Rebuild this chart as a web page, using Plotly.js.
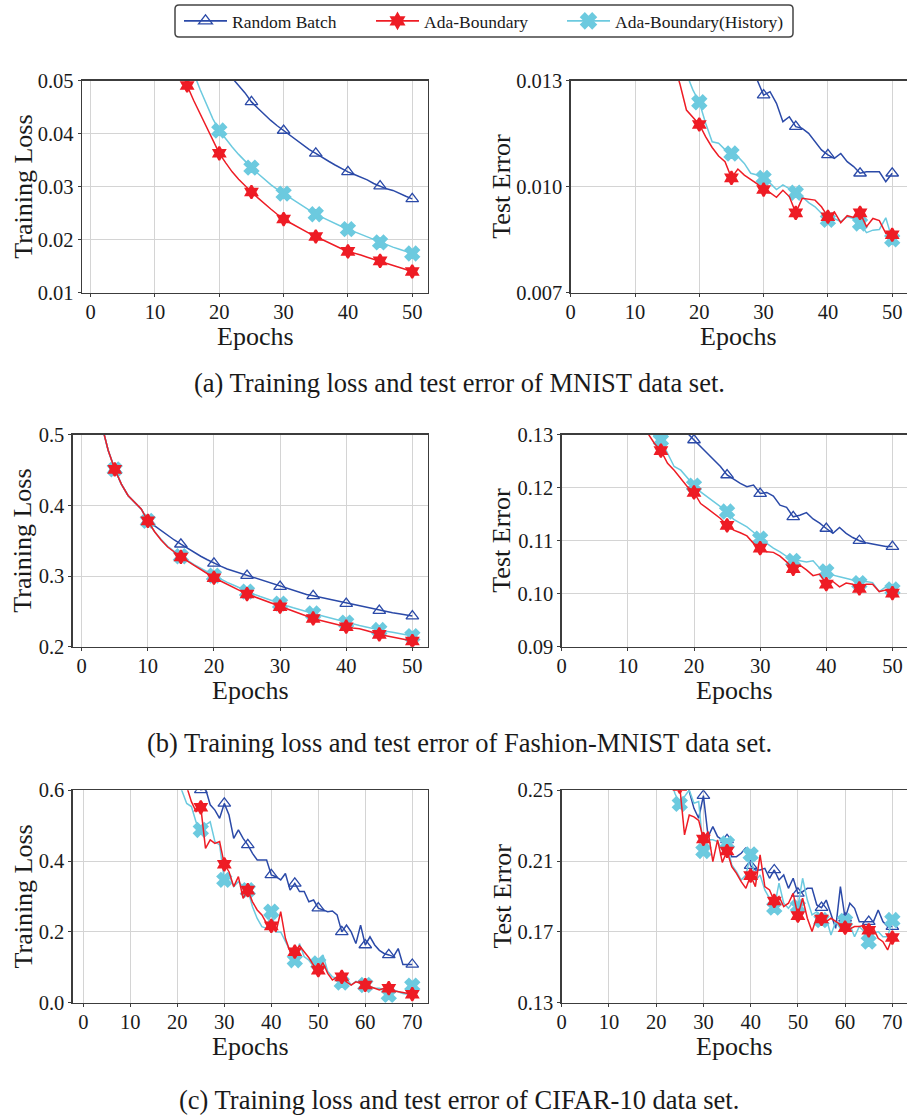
<!DOCTYPE html>
<html><head><meta charset="utf-8">
<script src="https://cdn.plot.ly/plotly-3.0.1.min.js"></script>
<style>html,body{margin:0;padding:0;background:#fff}#chart{width:907px;height:1117px}</style>
</head><body><div id="chart"></div>
<script>
// ---------------- data ----------------
const seriesNames = ['Random Batch', 'Ada-Boundary', 'Ada-Boundary(History)'];
const captions = [
  '(a) Training loss and test error of MNIST data set.',
  '(b) Training loss and test error of Fashion-MNIST data set.',
  '(c) Training loss and test error of CIFAR-10 data set.'
];
const xTitle = 'Epochs';
const lossTitle = 'Training Loss';
const errTitle = 'Test Error';

const epochs50 = [1,2,3,4,5,6,7,8,9,10,11,12,13,14,15,16,17,18,19,20,21,22,23,24,25,
  26,27,28,29,30,31,32,33,34,35,36,37,38,39,40,41,42,43,44,45,46,47,48,49,50];
const epochs70 = [1,2,3,4,5,6,7,8,9,10,11,12,13,14,15,16,17,18,19,20,21,22,23,24,25,
  26,27,28,29,30,31,32,33,34,35,36,37,38,39,40,41,42,43,44,45,46,47,48,49,50,
  51,52,53,54,55,56,57,58,59,60,61,62,63,64,65,66,67,68,69,70];

const ticks50 = [0, 10, 20, 30, 40, 50];
const ticks70 = [0, 10, 20, 30, 40, 50, 60, 70];

// MNIST
const mnistLossRandom = [0.34,0.24,0.19,0.16,0.14,0.125,0.112,0.102,0.094,0.087,
  0.081,0.076,0.071,0.067,0.064,0.061,0.0585,0.0565,0.0547,0.0532,
  0.0519,0.0506,0.0491,0.0477,0.0460,0.0448,0.0436,0.0425,0.0415,0.0406,
  0.0396,0.0387,0.0378,0.0370,0.0363,0.0355,0.0348,0.0341,0.0334,0.0328,
  0.0323,0.0318,0.0313,0.0306,0.0301,0.0296,0.0293,0.0287,0.0282,0.0277];
const mnistLossAda = [0.30,0.20,0.16,0.135,0.118,0.105,0.095,0.087,0.080,0.074,
  0.068,0.062,0.057,0.0528,0.0491,0.0463,0.0438,0.0410,0.0385,0.0363,
  0.0345,0.0328,0.0314,0.0301,0.0290,0.0279,0.0268,0.0258,0.0248,0.0239,
  0.0232,0.0225,0.0218,0.0212,0.0206,0.0200,0.0194,0.0188,0.0183,0.0178,
  0.0175,0.0171,0.0167,0.0163,0.0160,0.0156,0.0152,0.0148,0.0144,0.0140];
const mnistLossHist = [0.32,0.22,0.17,0.145,0.127,0.113,0.102,0.093,0.085,0.078,
  0.072,0.066,0.061,0.057,0.054,0.0515,0.0484,0.0456,0.0428,0.0406,
  0.0390,0.0375,0.0361,0.0348,0.0336,0.0325,0.0314,0.0304,0.0295,0.0287,
  0.0279,0.0271,0.0263,0.0255,0.0248,0.0242,0.0236,0.0230,0.0225,0.0220,
  0.0215,0.0210,0.0205,0.0200,0.0195,0.0190,0.0186,0.0182,0.0178,0.0174];
const mnistLossTicks = [0.01, 0.02, 0.03, 0.04, 0.05];

const mnistErrRandom = [0.035,0.028,0.025,0.023,0.0215,0.0205,0.0196,0.0189,0.0183,0.0177,
  0.0172,0.0168,0.0164,0.0160,0.0157,0.0154,0.0151,0.0149,0.0147,0.0145,
  0.0143,0.0141,0.0139,0.0138,0.0137,0.0135,0.0134,0.0133,0.01302,0.01259,
  0.01269,0.01236,0.01184,0.01198,0.01170,0.01165,0.01151,0.01127,0.01104,0.01090,
  0.01080,0.01094,0.01071,0.01057,0.01038,0.01042,0.01042,0.01042,0.01014,0.01038];
const mnistErrAda = [0.032,0.025,0.022,0.020,0.0186,0.0175,0.0167,0.0160,0.0155,0.0151,
  0.0148,0.0145,0.0143,0.0141,0.0139,0.0135,0.0129,0.01217,0.01198,0.01176,
  0.01141,0.01111,0.01087,0.01071,0.01025,0.01050,0.01033,0.01021,0.01008,0.00992,
  0.00983,0.00970,0.00990,0.00972,0.00926,0.00967,0.00964,0.00962,0.00943,0.00915,
  0.00929,0.00898,0.00918,0.00913,0.00926,0.00887,0.00910,0.00904,0.00868,0.00864];
const mnistErrHist = [0.033,0.026,0.023,0.021,0.0195,0.0183,0.0174,0.0166,0.0160,0.0155,
  0.0151,0.0148,0.0145,0.0143,0.0141,0.0139,0.0136,0.0132,0.01274,0.01239,
  0.01179,0.01127,0.01123,0.01105,0.01094,0.01085,0.01066,0.01038,0.01033,0.01025,
  0.01010,0.00992,0.01005,0.00995,0.00983,0.00972,0.00955,0.00943,0.00925,0.00906,
  0.00910,0.00901,0.00915,0.00910,0.00896,0.00870,0.00877,0.00879,0.00912,0.00851];
const mnistErrTicks = [0.007, 0.010, 0.013];

// Fashion-MNIST
const fashionLossRandom = [0.66,0.57,0.515,0.478,0.451,0.43,0.414,0.405,0.395,0.378,
  0.371,0.364,0.357,0.351,0.345,0.339,0.333,0.328,0.323,0.318,
  0.314,0.310,0.307,0.304,0.3005,0.297,0.294,0.291,0.288,0.285,
  0.282,0.280,0.277,0.274,0.272,0.270,0.268,0.265,0.263,0.261,
  0.259,0.257,0.255,0.253,0.251,0.2495,0.248,0.2465,0.245,0.2434];
const fashionLossAda = [0.66,0.57,0.515,0.478,0.451,0.43,0.414,0.405,0.395,0.378,
  0.363,0.351,0.341,0.334,0.327,0.321,0.315,0.309,0.303,0.2976,
  0.293,0.288,0.283,0.279,0.2745,0.271,0.267,0.264,0.260,0.2566,
  0.253,0.250,0.2465,0.243,0.240,0.2375,0.235,0.2325,0.2305,0.2283,
  0.2265,0.2255,0.223,0.220,0.2175,0.2155,0.2135,0.2115,0.2095,0.208];
const fashionLossHist = [0.66,0.57,0.515,0.478,0.451,0.43,0.414,0.405,0.395,0.378,
  0.363,0.352,0.342,0.335,0.328,0.322,0.316,0.311,0.3055,0.3005,
  0.296,0.291,0.287,0.2825,0.278,0.2745,0.271,0.2675,0.264,0.261,
  0.258,0.255,0.252,0.2495,0.247,0.2445,0.242,0.239,0.2365,0.234,
  0.232,0.230,0.228,0.2258,0.2236,0.222,0.2205,0.219,0.217,0.215];
const fashionLossTicks = [0.2, 0.3, 0.4, 0.5];

const fashionErrRandom = [0.21,0.185,0.172,0.164,0.158,0.153,0.149,0.146,0.143,0.141,
  0.139,0.1375,0.136,0.1348,0.1337,0.1327,0.1318,0.1311,0.1303,0.1290,
  0.1277,0.1265,0.1252,0.1240,0.1224,0.1216,0.1208,0.1202,0.1205,0.1189,
  0.1191,0.1184,0.1167,0.1163,0.1145,0.1148,0.1153,0.1141,0.1133,0.1123,
  0.1114,0.1125,0.1114,0.1106,0.1100,0.1096,0.1094,0.1092,0.1089,0.1089];
const fashionErrAda = [0.20,0.175,0.163,0.155,0.149,0.145,0.141,0.138,0.136,0.134,
  0.1325,0.1312,0.1303,0.1284,0.1270,0.1246,0.1233,0.1218,0.1202,0.1191,
  0.1170,0.1161,0.1152,0.1142,0.1129,0.1120,0.1115,0.1109,0.1095,0.1086,
  0.1079,0.1078,0.1071,0.1060,0.1047,0.1054,0.1045,0.1034,0.1037,0.1018,
  0.1023,0.1013,0.1020,0.1018,0.1010,0.1018,0.1018,0.1004,0.1007,0.1001];
const fashionErrHist = [0.205,0.18,0.167,0.159,0.153,0.148,0.144,0.141,0.138,0.136,
  0.134,0.1327,0.1312,0.1298,0.1290,0.1265,0.1240,0.1233,0.1218,0.1204,
  0.1192,0.1183,0.1174,0.1165,0.1155,0.1140,0.1133,0.1126,0.1116,0.1104,
  0.1095,0.1086,0.1079,0.1070,0.1062,0.1062,0.1060,0.1062,0.1048,0.1042,
  0.1035,0.1032,0.1029,0.1026,0.1020,0.1023,0.1021,0.1004,0.1013,0.1008];
const fashionErrTicks = [0.09, 0.10, 0.11, 0.12, 0.13];

// CIFAR-10
const cifarLossRandom = [2.1,1.85,1.68,1.55,1.45,1.36,1.28,1.21,1.15,1.09,
  1.04,0.99,0.95,0.91,0.87,0.83,0.80,0.76,0.73,0.70,
  0.68,0.66,0.64,0.62,0.601,0.605,0.559,0.544,0.521,0.563,
  0.530,0.464,0.488,0.464,0.446,0.422,0.403,0.403,0.403,0.361,
  0.356,0.347,0.365,0.318,0.337,0.314,0.314,0.285,0.290,0.267,
  0.262,0.257,0.259,0.248,0.200,0.219,0.200,0.167,0.219,0.163,
  0.186,0.163,0.148,0.139,0.135,0.130,0.153,0.108,0.108,0.108];
const cifarLossAda = [2.0,1.75,1.6,1.48,1.38,1.3,1.22,1.15,1.09,1.03,
  0.98,0.93,0.89,0.85,0.81,0.77,0.74,0.71,0.68,0.655,
  0.63,0.61,0.568,0.54,0.552,0.436,0.46,0.45,0.455,0.391,
  0.37,0.328,0.356,0.295,0.318,0.285,0.262,0.248,0.224,0.217,
  0.2,0.257,0.182,0.144,0.144,0.161,0.144,0.127,0.106,0.092,
  0.113,0.083,0.064,0.073,0.073,0.059,0.05,0.059,0.055,0.05,
  0.045,0.041,0.036,0.041,0.041,0.034,0.031,0.029,0.026,0.024];
const cifarLossHist = [1.95,1.7,1.55,1.43,1.33,1.25,1.17,1.1,1.04,0.98,
  0.93,0.89,0.85,0.81,0.78,0.75,0.72,0.69,0.66,0.63,
  0.598,0.563,0.554,0.51,0.488,0.502,0.511,0.455,0.446,0.347,
  0.361,0.328,0.342,0.328,0.318,0.271,0.238,0.215,0.21,0.257,
  0.2,0.2,0.172,0.148,0.12,0.167,0.13,0.12,0.102,0.111,
  0.135,0.088,0.073,0.069,0.057,0.069,0.05,0.06,0.055,0.05,
  0.045,0.041,0.041,0.036,0.022,0.036,0.031,0.026,0.024,0.048];
const cifarLossTicks = [0.0, 0.2, 0.4, 0.6];

const cifarErrRandom = [0.64,0.56,0.51,0.47,0.44,0.415,0.395,0.378,0.362,0.348,
  0.336,0.325,0.315,0.306,0.298,0.291,0.285,0.279,0.274,0.27,
  0.266,0.263,0.26,0.258,0.256,0.255,0.2495,0.2398,0.2342,0.247,
  0.2238,0.2295,0.2238,0.222,0.222,0.2125,0.2125,0.2144,0.2176,0.2074,
  0.205,0.205,0.2059,0.2003,0.205,0.1993,0.2022,0.1946,0.2003,0.1918,
  0.1927,0.1946,0.1946,0.1852,0.1837,0.188,0.1796,0.172,0.1956,0.1777,
  0.1862,0.1833,0.1758,0.1758,0.1758,0.1758,0.1824,0.1758,0.173,0.173];
const cifarErrAda = [0.62,0.55,0.5,0.46,0.43,0.41,0.39,0.37,0.355,0.34,
  0.33,0.32,0.31,0.3,0.295,0.29,0.285,0.28,0.275,0.27,
  0.266,0.262,0.258,0.255,0.252,0.2248,0.236,0.235,0.233,0.2225,
  0.2267,0.2097,0.222,0.2093,0.2157,0.2069,0.2031,0.1984,0.1946,0.2018,
  0.1956,0.2135,0.1956,0.1937,0.1875,0.19,0.1843,0.1862,0.1918,0.1792,
  0.189,0.1777,0.1702,0.1786,0.1773,0.1758,0.1777,0.1758,0.1739,0.1724,
  0.1717,0.173,0.173,0.1739,0.1709,0.172,0.1664,0.1645,0.1598,0.1668];
const cifarErrHist = [0.6,0.53,0.48,0.445,0.415,0.395,0.375,0.36,0.345,0.333,
  0.322,0.313,0.305,0.298,0.291,0.285,0.28,0.275,0.27,0.266,
  0.262,0.259,0.256,0.248,0.2423,0.2464,0.2502,0.2427,0.2436,0.2157,
  0.222,0.222,0.221,0.2163,0.22,0.2078,0.204,0.1993,0.2022,0.2138,
  0.1988,0.2022,0.1937,0.189,0.1837,0.1975,0.1862,0.1833,0.1871,0.1843,
  0.2003,0.188,0.1796,0.1814,0.1767,0.1777,0.1682,0.1758,0.172,0.1762,
  0.1739,0.1673,0.173,0.1702,0.1645,0.1692,0.1702,0.1673,0.1673,0.1767];
const cifarErrTicks = [0.13, 0.17, 0.21, 0.25];

// ---------------- styling ----------------
const W = 907, H = 1117;
const px = v => v / W;
const py = v => 1 - v / H;
const FONT = '"Liberation Serif", "Times New Roman", serif';
const TXT = '#1a1a1a';
const AXC = '#3c3c3c';
const seriesStyle = [
  {color: '#2b4aa8', symbol: 'triangle-up-open', size: 11, lineW: 1.3},
  {color: '#ee1c25', symbol: 'hexagram', size: 10, lineW: 2},
  {color: '#6ccadf', symbol: 'x', size: 12, lineW: 2}
];
const drawOrder = [0, 2, 1];
const legendX = [179, 371, 562];

const panels = [
  {x: epochs50, s: [mnistLossRandom, mnistLossAda, mnistLossHist], yt: mnistLossTicks, fmt: '.2f',
   yr: [0.01, 0.05], xr: [-1.35, 52.45], xt: ticks50, title: lossTitle,
   bx: [82, 428], by: [80.7, 292.7], right: false, tx: 24},
  {x: epochs50, s: [mnistErrRandom, mnistErrAda, mnistErrHist], yt: mnistErrTicks, fmt: '.3f',
   yr: [0.007, 0.013], xr: [0, 52.3], xt: ticks50, title: errTitle,
   bx: [570.7, 907], by: [80.7, 292.7], right: true, tx: 502},
  {x: epochs50, s: [fashionLossRandom, fashionLossAda, fashionLossHist], yt: fashionLossTicks, fmt: '.1f',
   yr: [0.2, 0.5], xr: [-1.36, 52.32], xt: ticks50, title: lossTitle,
   bx: [72.7, 427.7], by: [434.7, 646.7], right: false, tx: 23},
  {x: epochs50, s: [fashionErrRandom, fashionErrAda, fashionErrHist], yt: fashionErrTicks, fmt: '.2f',
   yr: [0.09, 0.13], xr: [0, 52.2], xt: ticks50, title: errTitle,
   bx: [561.7, 907], by: [434.7, 646.7], right: true, tx: 502},
  {x: epochs70, s: [cifarLossRandom, cifarLossAda, cifarLossHist], yt: cifarLossTicks, fmt: '.1f',
   yr: [0.0, 0.6], xr: [-2.26, 73.28], xt: ticks70, title: lossTitle,
   bx: [72.7, 427.7], by: [790.3, 1002.7], right: false, tx: 23},
  {x: epochs70, s: [cifarErrRandom, cifarErrAda, cifarErrHist], yt: cifarErrTicks, fmt: '.2f',
   yr: [0.13, 0.25], xr: [0, 73.1], xt: ticks70, title: errTitle,
   bx: [561.7, 907], by: [790.3, 1002.7], right: true, tx: 502}
];

const traces = [];
const layout = {
  width: W, height: H,
  margin: {l: 0, r: 0, t: 0, b: 0},
  paper_bgcolor: '#fff', plot_bgcolor: '#fff',
  font: {family: FONT, color: TXT, size: 20},
  showlegend: true,
  annotations: [],
  shapes: []
};

// legend entries: one small legend per series, placed inside a shared rounded box
seriesNames.forEach((name, i) => {
  const st = seriesStyle[i];
  const lg = i === 0 ? 'legend' : 'legend' + (i + 1);
  traces.push({x: [null], y: [null], name: name, mode: 'lines+markers', xaxis: 'x', yaxis: 'y',
    legend: lg,
    line: {color: st.color, width: 1.8},
    marker: {symbol: st.symbol, size: st.size + 1, color: st.color, line: {color: st.color, width: st.lineW}},
    showlegend: true, hoverinfo: 'skip'});
  layout[lg] = {orientation: 'h', x: px(legendX[i]), xanchor: 'left', y: py(21), yanchor: 'middle',
    borderwidth: 0, bgcolor: 'rgba(0,0,0,0)', itemwidth: 43,
    font: {family: FONT, size: 17.5, color: TXT}};
});
(function () {
  const x0 = 175, x1 = 793, y0 = 5, y1 = 37, r = 4;
  const P = (a, b) => px(a) + ',' + py(b);
  const path = 'M' + P(x0 + r, y0) + ' L' + P(x1 - r, y0) + ' Q' + P(x1, y0) + ' ' + P(x1, y0 + r) +
    ' L' + P(x1, y1 - r) + ' Q' + P(x1, y1) + ' ' + P(x1 - r, y1) +
    ' L' + P(x0 + r, y1) + ' Q' + P(x0, y1) + ' ' + P(x0, y1 - r) +
    ' L' + P(x0, y0 + r) + ' Q' + P(x0, y0) + ' ' + P(x0 + r, y0) + ' Z';
  layout.shapes.push({type: 'path', xref: 'paper', yref: 'paper', path: path,
    line: {color: '#444', width: 1.5}, fillcolor: 'rgba(0,0,0,0)'});
})();

panels.forEach((p, k) => {
  const n = k + 1;
  const xa = n === 1 ? 'x' : 'x' + n;
  const ya = n === 1 ? 'y' : 'y' + n;
  drawOrder.forEach(i => {
    const st = seriesStyle[i];
    const ys = p.s[i];
    traces.push({x: p.x, y: ys, mode: 'lines', xaxis: xa, yaxis: ya, showlegend: false,
      line: {color: st.color, width: 1.5}, hoverinfo: 'skip'});
    const mx = [], my = [];
    p.x.forEach((e, j) => { if (e % 5 === 0) { mx.push(e); my.push(ys[j]); } });
    traces.push({x: mx, y: my, mode: 'markers', xaxis: xa, yaxis: ya, showlegend: false,
      marker: {symbol: st.symbol, size: st.size, color: st.color, line: {color: st.color, width: st.lineW}},
      hoverinfo: 'skip'});
  });
  const axCommon = {showline: true, linecolor: AXC, linewidth: 1.3, showgrid: true, gridcolor: '#d4d4d4',
    gridwidth: 1, zeroline: false, ticks: 'outside', ticklen: 3, tickwidth: 1, tickcolor: AXC,
    tickfont: {family: FONT, size: 20.5, color: TXT}};
  layout['xaxis' + (n === 1 ? '' : n)] = Object.assign({}, axCommon, {
    domain: [px(p.bx[0]), Math.min(1, px(p.bx[1]))], anchor: ya, range: p.xr,
    tickvals: p.xt, ticktext: p.xt.map(String), mirror: true, ticklabelstandoff: -3
  });
  layout['yaxis' + (n === 1 ? '' : n)] = Object.assign({}, axCommon, {
    domain: [py(p.by[1]), py(p.by[0])], anchor: xa, range: p.yr, tickvals: p.yt, tickformat: p.fmt,
    mirror: !p.right
  });
  // axis titles
  layout.annotations.push({text: xTitle, xref: 'paper', yref: 'paper',
    x: px((p.bx[0] + p.bx[1]) / 2), y: py(p.by[1] + 44), xanchor: 'center', yanchor: 'middle',
    showarrow: false, font: {family: FONT, size: 26, color: TXT}});
  layout.annotations.push({text: p.title, xref: 'paper', yref: 'paper', textangle: -90,
    x: px(p.tx), y: py((p.by[0] + p.by[1]) / 2), xanchor: 'center', yanchor: 'middle',
    showarrow: false, font: {family: FONT, size: 26, color: TXT}});
});

const capY = [383, 743, 1100];
captions.forEach((c, i) => {
  layout.annotations.push({text: c, xref: 'paper', yref: 'paper', x: px(459), y: py(capY[i]),
    xanchor: 'center', yanchor: 'middle', showarrow: false,
    font: {family: FONT, size: 26.5, color: TXT}});
});

Plotly.newPlot('chart', traces, layout, {staticPlot: true, displayModeBar: false});
</script>
</body></html>
